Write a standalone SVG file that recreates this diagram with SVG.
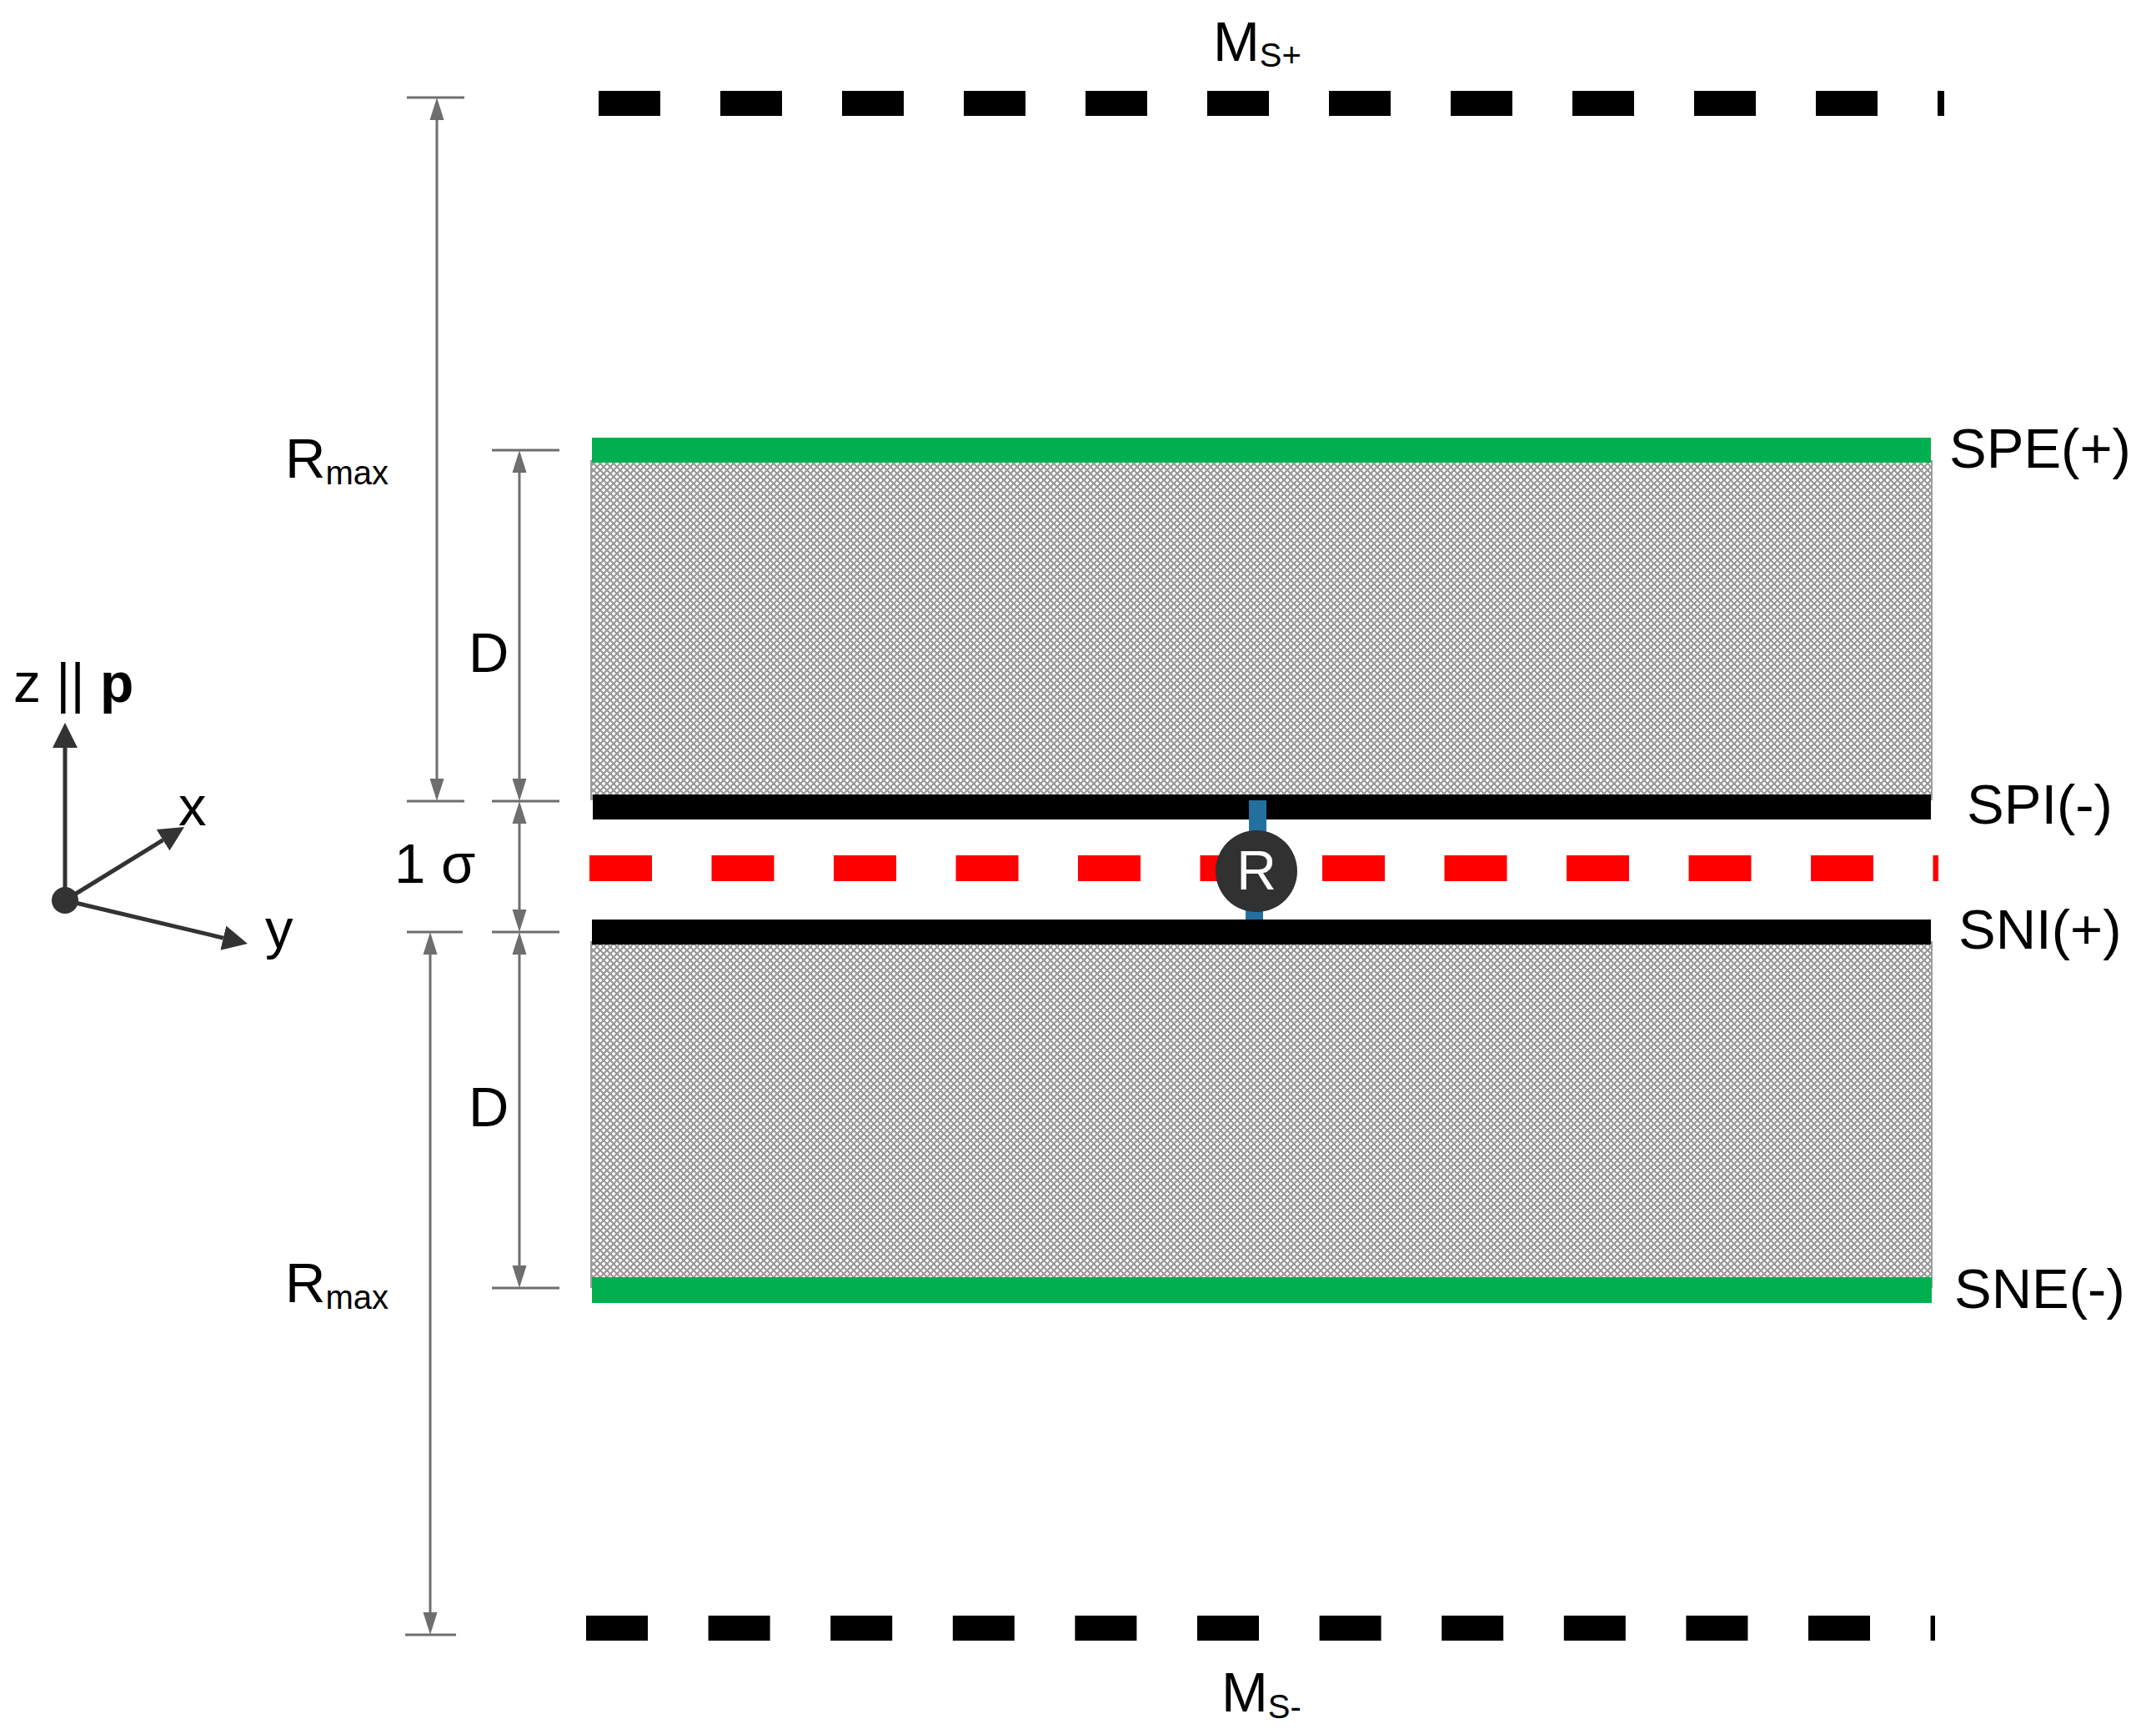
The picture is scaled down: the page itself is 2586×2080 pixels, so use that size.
<svg xmlns="http://www.w3.org/2000/svg" width="2586" height="2080" viewBox="0 0 2586 2080">
<style>
text{font-family:"Liberation Sans",Arial,sans-serif;fill:#000}
.lbl{font-size:67px}
.sub{font-size:40px}
.dim{stroke:#6e6e6e;stroke-width:3;fill:none}
.ax{stroke:#333;stroke-width:5;fill:none}
.hatch{fill:url(#cross);stroke:#9c9c9c;stroke-width:2}
</style>
<defs>
<pattern id="cross" width="8" height="8" patternUnits="userSpaceOnUse">
<rect width="8" height="8" fill="#9c9c9c"/>
<rect x="3" y="2" width="2" height="4" fill="#fff"/>
<rect x="2" y="3" width="4" height="2" fill="#fff"/>
<rect x="7" y="6" width="1" height="4" fill="#fff"/>
<rect x="0" y="6" width="1" height="2" fill="#fff"/>
<rect x="7" y="0" width="1" height="2" fill="#fff"/>
<rect x="0" y="0" width="1" height="2" fill="#fff"/>
<rect x="6" y="7" width="2" height="1" fill="#fff"/>
<rect x="0" y="7" width="2" height="1" fill="#fff"/>
<rect x="6" y="0" width="2" height="1" fill="#fff"/>
<rect x="0" y="0" width="2" height="1" fill="#fff"/>
</pattern>
<marker id="dimArrow" viewBox="0 -9 27 18" markerWidth="27" markerHeight="18" markerUnits="userSpaceOnUse" refX="0" refY="0" orient="auto-start-reverse">
<path d="M0,-8.5 L27,0 L0,8.5 z" fill="#6e6e6e"/>
</marker>
<marker id="axArrow" viewBox="0 -15 30 30" markerWidth="30" markerHeight="30" markerUnits="userSpaceOnUse" refX="0" refY="0" orient="auto">
<path d="M0,-15 L30,0 L0,15 z" fill="#333"/>
</marker>
</defs>
<rect width="2586" height="2080" fill="#fff"/>

<g id="layer-upper">
<rect class="hatch" x="709" y="553" width="1608" height="406"/>
<rect x="710" y="525" width="1606" height="30" fill="#00b050"/>
</g>
<g id="layer-lower">
<rect class="hatch" x="709" y="1130" width="1608" height="414"/>
<rect x="710" y="1532" width="1607" height="31" fill="#00b050"/>
</g>
<g id="surface-SPI">
<rect x="711" y="953" width="1605" height="30" fill="#000"/>
</g>
<g id="surface-SNI">
<rect x="710" y="1103" width="1606" height="30" fill="#000"/>
</g>
<g id="midplane">
<line x1="707" y1="1041.5" x2="2325" y2="1041.5" stroke="#ff0000" stroke-width="31" stroke-dasharray="75 71.5"/>
</g>
<g id="mirror-top">
<line x1="718" y1="124" x2="2332" y2="124" stroke="#000" stroke-width="30" stroke-dasharray="74 72"/>
</g>
<g id="mirror-bottom">
<line x1="703" y1="1953" x2="2321" y2="1953" stroke="#000" stroke-width="30" stroke-dasharray="74 72.6"/>
</g>
<g id="node-R">
<rect x="1498" y="960" width="21" height="40" fill="#2370a0"/>
<rect x="1494" y="1085" width="21" height="18" fill="#2370a0"/>
<circle cx="1507" cy="1045" r="49" fill="#313131"/>
<text x="1507" y="1067" text-anchor="middle" style="font-size:66px;fill:#fff">R</text>
</g>

<g id="connectors">
<line class="dim" x1="488" y1="117" x2="557" y2="117"/>
<line class="dim" x1="488" y1="961" x2="557" y2="961"/>
<line class="dim" x1="590" y1="540" x2="671" y2="540"/>
<line class="dim" x1="590" y1="961" x2="671" y2="961"/>
<line class="dim" x1="488" y1="1118" x2="555" y2="1118"/>
<line class="dim" x1="590" y1="1118" x2="671" y2="1118"/>
<line class="dim" x1="590" y1="1545" x2="671" y2="1545"/>
<line class="dim" x1="486" y1="1961" x2="547" y2="1961"/>
<line class="dim" x1="524" y1="144" x2="524" y2="934" marker-start="url(#dimArrow)" marker-end="url(#dimArrow)"/>
<line class="dim" x1="623" y1="567" x2="623" y2="934" marker-start="url(#dimArrow)" marker-end="url(#dimArrow)"/>
<line class="dim" x1="623" y1="988" x2="623" y2="1091" marker-start="url(#dimArrow)" marker-end="url(#dimArrow)"/>
<line class="dim" x1="623" y1="1145" x2="623" y2="1518" marker-start="url(#dimArrow)" marker-end="url(#dimArrow)"/>
<line class="dim" x1="516" y1="1145" x2="516" y2="1934" marker-start="url(#dimArrow)" marker-end="url(#dimArrow)"/>
</g>

<g id="axes">
<line class="ax" x1="78" y1="1080" x2="78" y2="897" marker-end="url(#axArrow)"/>
<line class="ax" x1="78" y1="1080" x2="195.5" y2="1007.7" marker-end="url(#axArrow)"/>
<line class="ax" x1="78" y1="1080" x2="267.8" y2="1125.1" marker-end="url(#axArrow)"/>
<circle cx="78" cy="1080" r="16" fill="#333"/>
<text x="16" y="842" style="font-size:66px">z || <tspan font-weight="bold">p</tspan></text>
<text x="214" y="990" class="lbl">x</text>
<text x="318" y="1137" class="lbl">y</text>
</g>

<g id="labels">
<text x="1455" y="73" class="lbl">M<tspan class="sub" dy="7">S+</tspan></text>
<text x="1465" y="2053" class="lbl">M<tspan class="sub" dy="8">S-</tspan></text>
<text x="342" y="573" class="lbl">R<tspan class="sub" dy="8">max</tspan></text>
<text x="342" y="1562" class="lbl">R<tspan class="sub" dy="8">max</tspan></text>
<text x="562" y="806" class="lbl">D</text>
<text x="562" y="1351" class="lbl">D</text>
<text x="473" y="1059" class="lbl">1 σ</text>
<text x="2338" y="561" class="lbl">SPE(+)</text>
<text x="2359" y="988" class="lbl">SPI(-)</text>
<text x="2349" y="1138" class="lbl">SNI(+)</text>
<text x="2344" y="1569" class="lbl">SNE(-)</text>
</g>
</svg>
